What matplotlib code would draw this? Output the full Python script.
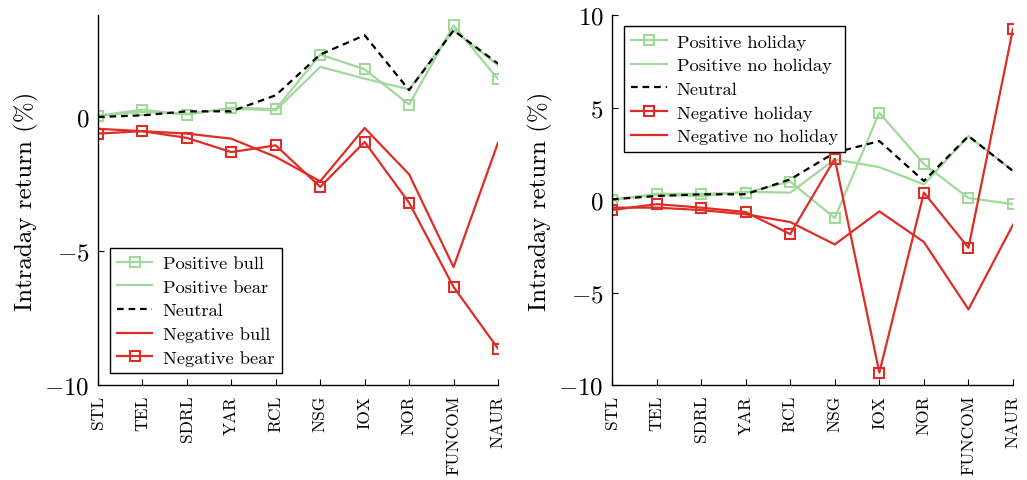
import numpy as np
import matplotlib
matplotlib.use("Agg")
import matplotlib.pyplot as plt

plt.rcParams['font.family'] = 'serif'
plt.rcParams['font.serif'] = ['cmr10', 'DejaVu Serif']
plt.rcParams['mathtext.fontset'] = 'cm'
plt.rcParams['axes.formatter.use_mathtext'] = True
plt.rcParams['axes.unicode_minus'] = True

# tickers on the x axis
stocks = ["STL", "TEL", "SDRL", "YAR", "RCL", "NSG", "IOX", "NOR", "FUNCOM", "NAUR"]

# left panel: bull / bear
pos_bull = [0.05, 0.27, 0.09, 0.35, 0.29, 2.33, 1.78, 0.46, 3.42, 1.41]
pos_bear = [0.04, 0.19, 0.12, 0.31, 0.25, 1.87, 1.43, 1.03, 3.23, 1.93]
neutral_l = [0.0, 0.06, 0.21, 0.21, 0.81, 2.33, 3.05, 1.0, 3.23, 1.99]
neg_bull = [-0.44, -0.53, -0.62, -0.81, -1.49, -2.4, -0.41, -2.14, -5.6, -0.96]
neg_bear = [-0.62, -0.53, -0.78, -1.31, -1.06, -2.61, -0.93, -3.2, -6.34, -8.64]

# right panel: holiday / no holiday
pos_hol = [0.0, 0.34, 0.34, 0.4, 1.0, -0.97, 4.72, 1.95, 0.11, -0.22]
pos_nohol = [0.04, 0.27, 0.22, 0.45, 0.4, 2.2, 1.78, 0.85, 3.46, 1.57]
neutral_r = [0.04, 0.22, 0.31, 0.31, 1.12, 2.56, 3.19, 1.03, 3.46, 1.57]
neg_hol = [-0.54, -0.22, -0.41, -0.65, -1.84, 2.23, -9.33, 0.4, -2.58, 9.26]
neg_nohol = [-0.41, -0.41, -0.54, -0.77, -1.19, -2.4, -0.61, -2.27, -5.91, -1.33]

green = "#a1d99b"
red = "#de2d26"
x = np.arange(len(stocks))

fig = plt.figure(figsize=(10.27, 4.81), dpi=100)
ax1 = fig.add_axes([0.0954, 0.1975, 0.3895, 0.769])
ax2 = fig.add_axes([0.5959, 0.1975, 0.3905, 0.769])

mk = dict(marker='s', markersize=7, markerfacecolor='none', markeredgewidth=1.5)
lw = 1.6
dash = (0, (3, 2.2))

def style(ax, ylim, yticks):
    ax.set_xlim(0, len(stocks) - 1)
    ax.set_ylim(*ylim)
    ax.set_yticks(yticks)
    ax.set_xticks(x)
    ax.set_xticklabels(stocks, rotation=90, fontsize=12.5)
    ax.tick_params(axis='y', direction='in', labelsize=18, length=4, width=0.8, pad=6)
    ax.tick_params(axis='x', direction='in', length=4, width=0.8, pad=7)
    for s in ['top', 'right']:
        ax.spines[s].set_visible(False)
    for s in ['left', 'bottom']:
        ax.spines[s].set_linewidth(1.0)
    ax.set_ylabel("Intraday return (%)", fontsize=18, labelpad=4)

# left
ax1.plot(x, pos_bull, color=green, lw=lw, label="Positive bull", **mk)
ax1.plot(x, pos_bear, color=green, lw=lw, label="Positive bear")
ax1.plot(x, neutral_l, color='black', lw=lw, ls=dash, label="Neutral")
ax1.plot(x, neg_bull, color=red, lw=lw, label="Negative bull")
ax1.plot(x, neg_bear, color=red, lw=lw, label="Negative bear", **mk)
style(ax1, (-10, 3.8), [-10, -5, 0])

# right
ax2.plot(x, pos_hol, color=green, lw=lw, label="Positive holiday", **mk)
ax2.plot(x, pos_nohol, color=green, lw=lw, label="Positive no holiday")
ax2.plot(x, neutral_r, color='black', lw=lw, ls=dash, label="Neutral")
ax2.plot(x, neg_hol, color=red, lw=lw, label="Negative holiday", **mk)
ax2.plot(x, neg_nohol, color=red, lw=lw, label="Negative no holiday")
style(ax2, (-10, 10), [-10, -5, 0, 5, 10])

for ax, loc, anchor in [(ax1, 'lower left', (0.03, 0.032)), (ax2, 'upper left', (0.03, 0.97))]:
    leg = ax.legend(loc=loc, bbox_to_anchor=anchor, fontsize=13.3, frameon=True,
                    fancybox=False, edgecolor='black', framealpha=1, borderaxespad=0,
                    handlelength=1.9, borderpad=0.4, labelspacing=0.42, handletextpad=0.55)
    leg.get_frame().set_linewidth(1.0)

fig.savefig("out.png", dpi=100)
